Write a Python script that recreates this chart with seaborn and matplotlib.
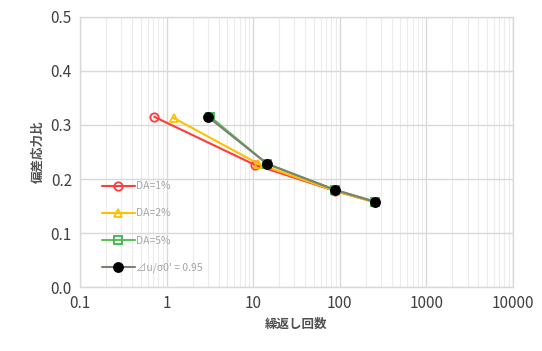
import matplotlib
matplotlib.use("Agg")
import matplotlib.pyplot as plt
import seaborn as sns
import pandas as pd
from matplotlib.ticker import FixedLocator, NullFormatter

sns.set_theme(style="white")
plt.rcParams['font.family'] = ['Noto Sans CJK JP', 'DejaVu Sans']

series_names = ["DA=1%", "DA=2%", "DA=5%", "⊿u/σ0' = 0.95"]
n_da1 = [0.72, 10.5, 88, 255]
r_da1 = [0.315, 0.226, 0.178, 0.157]
n_da2 = [1.2, 11.5, 88, 255]
r_da2 = [0.313, 0.228, 0.178, 0.157]
n_da5 = [3.2, 14.5, 88, 255]
r_da5 = [0.315, 0.228, 0.180, 0.158]
n_pp = [3.0, 14.5, 88, 255]
r_pp = [0.315, 0.228, 0.180, 0.158]

xticks = [0.1, 1, 10, 100, 1000, 10000]
xticklabels = ["0.1", "1", "10", "100", "1000", "10000"]
yticks = [0.0, 0.1, 0.2, 0.3, 0.4, 0.5]

fig = plt.figure(figsize=(5.42, 3.51), dpi=100)
ax = fig.add_axes([0.148, 0.182, 0.798, 0.770])

styles = [
    dict(color="#ff3b3b", marker="o", mfc="none", mec="#ff3b3b"),
    dict(color="#ffc000", marker="^", mfc="none", mec="#ffc000"),
    dict(color="#5cc35c", marker="s", mfc="none", mec="#3cb44b"),
    dict(color="#7f8070", marker="o", mfc="black", mec="black"),
]
data = [(n_da1, r_da1), (n_da2, r_da2), (n_da5, r_da5), (n_pp, r_pp)]
for (nx, ry), name, st in zip(data, series_names, styles):
    df = pd.DataFrame({"n": nx, "r": ry})
    sns.lineplot(data=df, x="n", y="r", ax=ax, color=st["color"], linewidth=1.5,
                 marker=st["marker"], markersize=6.5 if st["mfc"] == "black" else 6,
                 markerfacecolor=st["mfc"], markeredgecolor=st["mec"],
                 markeredgewidth=1.3, label=name, sort=False, zorder=3)

ax.set_xscale("log")
ax.set_xlim(0.1, 10000)
ax.set_ylim(0, 0.5)
ax.xaxis.set_major_locator(FixedLocator(xticks))
ax.set_xticklabels(xticklabels)
ax.xaxis.set_minor_locator(matplotlib.ticker.LogLocator(base=10, subs=range(2, 10)))
ax.xaxis.set_minor_formatter(NullFormatter())
ax.set_yticks(yticks)
ax.set_yticklabels([f"{v:.1f}" for v in yticks])
ax.grid(True, which="major", color="#d9d9d9", linewidth=1.0)
ax.grid(True, which="minor", axis="x", color="#ececec", linewidth=0.8)
ax.set_axisbelow(True)
for s in ax.spines.values():
    s.set_color("#d9d9d9")
    s.set_linewidth(1.0)
ax.tick_params(axis="both", which="both", length=0, labelsize=11, colors="#404040", pad=6)
ax.set_xlabel("繰返し回数", fontsize=9, color="#505050", labelpad=4, fontweight="bold")
ax.set_ylabel("偏差応力比", fontsize=9, color="#505050", labelpad=4, fontweight="bold")

leg = ax.legend(loc="lower left", bbox_to_anchor=(0.04, 0.035), frameon=False,
                fontsize=7.5, labelspacing=1.65, handlelength=3.2, handletextpad=0.1,
                borderaxespad=0)
for t in leg.get_texts():
    t.set_color("#a6a6a6")

fig.savefig("out.png", dpi=100, facecolor="white")
